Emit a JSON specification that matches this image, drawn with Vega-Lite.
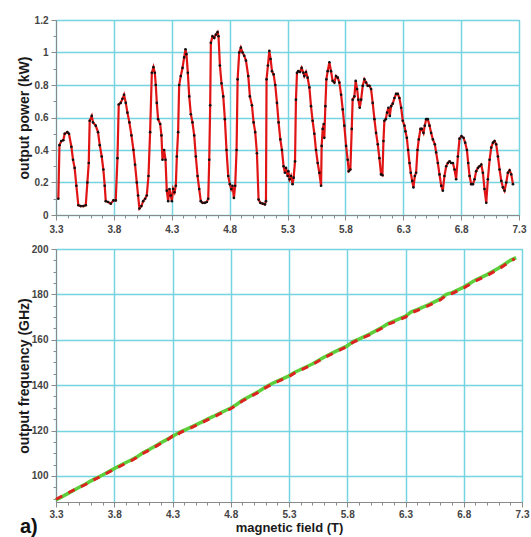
{
  "$schema": "https://vega.github.io/schema/vega-lite/v6.json",
  "padding": {"left": 16, "top": 14, "right": 0, "bottom": 0},
  "background": "white",
  "spacing": 8,
  "config": {
    "font": "Liberation Sans",
    "view": {"stroke": "#8a8a8a", "strokeWidth": 1},
    "axis": {
      "domainColor": "#8a8a8a",
      "tickColor": "#8a8a8a",
      "gridColor": "#74d4e0",
      "gridWidth": 1.5,
      "labelFont": "Liberation Sans",
      "labelFontSize": 10,
      "labelFontWeight": "bold",
      "labelColor": "#444444",
      "labelOverlap": false,
      "labelFlush": false,
      "titleFont": "Liberation Sans",
      "titleFontWeight": "bold",
      "titleColor": "#1a1a1a"
    }
  },
  "datasets": {
    "power": [
      {"b":3.320,"p":0.10},{"b":3.330,"p":0.43},{"b":3.346,"p":0.455},{"b":3.363,"p":0.46},{"b":3.375,"p":0.50},{"b":3.398,"p":0.51},{"b":3.412,"p":0.50},{"b":3.433,"p":0.42},{"b":3.447,"p":0.34},{"b":3.461,"p":0.29},{"b":3.476,"p":0.18},{"b":3.493,"p":0.06},{"b":3.513,"p":0.055},{"b":3.536,"p":0.055},{"b":3.557,"p":0.06},{"b":3.571,"p":0.20},{"b":3.583,"p":0.32},{"b":3.591,"p":0.58},{"b":3.609,"p":0.61},{"b":3.620,"p":0.57},{"b":3.643,"p":0.55},{"b":3.663,"p":0.51},{"b":3.678,"p":0.43},{"b":3.695,"p":0.36},{"b":3.709,"p":0.28},{"b":3.721,"p":0.18},{"b":3.730,"p":0.085},{"b":3.750,"p":0.08},{"b":3.773,"p":0.07},{"b":3.796,"p":0.09},{"b":3.816,"p":0.09},{"b":3.831,"p":0.35},{"b":3.842,"p":0.68},{"b":3.859,"p":0.69},{"b":3.874,"p":0.715},{"b":3.888,"p":0.74},{"b":3.903,"p":0.69},{"b":3.917,"p":0.63},{"b":3.934,"p":0.57},{"b":3.952,"p":0.49},{"b":3.969,"p":0.40},{"b":3.983,"p":0.31},{"b":3.998,"p":0.20},{"b":4.009,"p":0.12},{"b":4.021,"p":0.04},{"b":4.038,"p":0.055},{"b":4.053,"p":0.085},{"b":4.070,"p":0.10},{"b":4.084,"p":0.12},{"b":4.099,"p":0.24},{"b":4.113,"p":0.51},{"b":4.128,"p":0.875},{"b":4.142,"p":0.91},{"b":4.154,"p":0.875},{"b":4.162,"p":0.80},{"b":4.171,"p":0.69},{"b":4.182,"p":0.59},{"b":4.200,"p":0.56},{"b":4.211,"p":0.49},{"b":4.220,"p":0.34},{"b":4.234,"p":0.40},{"b":4.246,"p":0.34},{"b":4.257,"p":0.15},{"b":4.269,"p":0.085},{"b":4.280,"p":0.16},{"b":4.292,"p":0.12},{"b":4.301,"p":0.085},{"b":4.312,"p":0.16},{"b":4.324,"p":0.14},{"b":4.335,"p":0.18},{"b":4.344,"p":0.36},{"b":4.355,"p":0.51},{"b":4.364,"p":0.80},{"b":4.378,"p":0.855},{"b":4.393,"p":0.905},{"b":4.407,"p":0.97},{"b":4.419,"p":1.02},{"b":4.427,"p":0.99},{"b":4.439,"p":0.875},{"b":4.451,"p":0.73},{"b":4.465,"p":0.62},{"b":4.479,"p":0.57},{"b":4.494,"p":0.49},{"b":4.508,"p":0.36},{"b":4.523,"p":0.24},{"b":4.537,"p":0.16},{"b":4.551,"p":0.085},{"b":4.566,"p":0.075},{"b":4.586,"p":0.075},{"b":4.603,"p":0.08},{"b":4.615,"p":0.10},{"b":4.624,"p":0.34},{"b":4.632,"p":0.675},{"b":4.638,"p":1.06},{"b":4.652,"p":1.10},{"b":4.667,"p":1.09},{"b":4.681,"p":1.11},{"b":4.696,"p":1.125},{"b":4.704,"p":1.10},{"b":4.716,"p":0.92},{"b":4.730,"p":0.81},{"b":4.745,"p":0.73},{"b":4.759,"p":0.59},{"b":4.773,"p":0.40},{"b":4.788,"p":0.24},{"b":4.802,"p":0.19},{"b":4.814,"p":0.16},{"b":4.825,"p":0.18},{"b":4.837,"p":0.105},{"b":4.848,"p":0.18},{"b":4.860,"p":0.40},{"b":4.869,"p":0.835},{"b":4.883,"p":1.00},{"b":4.897,"p":1.03},{"b":4.912,"p":1.00},{"b":4.926,"p":0.98},{"b":4.941,"p":0.95},{"b":4.961,"p":0.855},{"b":4.975,"p":0.73},{"b":4.993,"p":0.675},{"b":5.007,"p":0.57},{"b":5.021,"p":0.51},{"b":5.036,"p":0.38},{"b":5.050,"p":0.095},{"b":5.065,"p":0.075},{"b":5.085,"p":0.07},{"b":5.105,"p":0.065},{"b":5.114,"p":0.085},{"b":5.119,"p":0.835},{"b":5.131,"p":0.92},{"b":5.143,"p":1.01},{"b":5.154,"p":0.96},{"b":5.166,"p":0.885},{"b":5.180,"p":0.865},{"b":5.194,"p":0.80},{"b":5.209,"p":0.69},{"b":5.223,"p":0.57},{"b":5.238,"p":0.465},{"b":5.252,"p":0.40},{"b":5.266,"p":0.30},{"b":5.278,"p":0.26},{"b":5.287,"p":0.29},{"b":5.301,"p":0.24},{"b":5.307,"p":0.27},{"b":5.318,"p":0.22},{"b":5.330,"p":0.24},{"b":5.344,"p":0.19},{"b":5.353,"p":0.23},{"b":5.365,"p":0.33},{"b":5.373,"p":0.71},{"b":5.382,"p":0.875},{"b":5.393,"p":0.885},{"b":5.408,"p":0.88},{"b":5.422,"p":0.905},{"b":5.437,"p":0.875},{"b":5.445,"p":0.855},{"b":5.460,"p":0.88},{"b":5.474,"p":0.845},{"b":5.489,"p":0.785},{"b":5.503,"p":0.67},{"b":5.517,"p":0.58},{"b":5.532,"p":0.50},{"b":5.546,"p":0.40},{"b":5.561,"p":0.32},{"b":5.575,"p":0.26},{"b":5.590,"p":0.18},{"b":5.595,"p":0.425},{"b":5.604,"p":0.53},{"b":5.613,"p":0.56},{"b":5.618,"p":0.475},{"b":5.627,"p":0.67},{"b":5.636,"p":0.835},{"b":5.647,"p":0.885},{"b":5.662,"p":0.94},{"b":5.676,"p":0.885},{"b":5.690,"p":0.825},{"b":5.705,"p":0.815},{"b":5.719,"p":0.855},{"b":5.734,"p":0.845},{"b":5.748,"p":0.815},{"b":5.763,"p":0.74},{"b":5.777,"p":0.65},{"b":5.791,"p":0.55},{"b":5.806,"p":0.425},{"b":5.820,"p":0.34},{"b":5.829,"p":0.27},{"b":5.843,"p":0.28},{"b":5.855,"p":0.53},{"b":5.863,"p":0.71},{"b":5.878,"p":0.73},{"b":5.889,"p":0.825},{"b":5.901,"p":0.775},{"b":5.912,"p":0.71},{"b":5.924,"p":0.66},{"b":5.936,"p":0.71},{"b":5.950,"p":0.795},{"b":5.964,"p":0.835},{"b":5.979,"p":0.815},{"b":5.993,"p":0.795},{"b":6.008,"p":0.795},{"b":6.022,"p":0.775},{"b":6.036,"p":0.69},{"b":6.051,"p":0.59},{"b":6.065,"p":0.505},{"b":6.080,"p":0.435},{"b":6.094,"p":0.35},{"b":6.108,"p":0.25},{"b":6.120,"p":0.245},{"b":6.129,"p":0.455},{"b":6.137,"p":0.58},{"b":6.149,"p":0.59},{"b":6.160,"p":0.63},{"b":6.172,"p":0.66},{"b":6.184,"p":0.61},{"b":6.195,"p":0.67},{"b":6.209,"p":0.685},{"b":6.224,"p":0.72},{"b":6.238,"p":0.745},{"b":6.253,"p":0.745},{"b":6.267,"p":0.72},{"b":6.282,"p":0.66},{"b":6.296,"p":0.58},{"b":6.310,"p":0.55},{"b":6.319,"p":0.515},{"b":6.331,"p":0.475},{"b":6.342,"p":0.40},{"b":6.354,"p":0.32},{"b":6.365,"p":0.26},{"b":6.377,"p":0.21},{"b":6.388,"p":0.17},{"b":6.400,"p":0.24},{"b":6.411,"p":0.26},{"b":6.423,"p":0.40},{"b":6.434,"p":0.465},{"b":6.449,"p":0.53},{"b":6.460,"p":0.53},{"b":6.475,"p":0.505},{"b":6.486,"p":0.55},{"b":6.498,"p":0.59},{"b":6.512,"p":0.59},{"b":6.527,"p":0.55},{"b":6.541,"p":0.505},{"b":6.556,"p":0.465},{"b":6.573,"p":0.435},{"b":6.584,"p":0.385},{"b":6.599,"p":0.32},{"b":6.613,"p":0.25},{"b":6.628,"p":0.18},{"b":6.642,"p":0.15},{"b":6.656,"p":0.24},{"b":6.671,"p":0.30},{"b":6.685,"p":0.32},{"b":6.700,"p":0.33},{"b":6.714,"p":0.32},{"b":6.729,"p":0.32},{"b":6.743,"p":0.28},{"b":6.757,"p":0.22},{"b":6.772,"p":0.36},{"b":6.786,"p":0.47},{"b":6.803,"p":0.485},{"b":6.821,"p":0.475},{"b":6.835,"p":0.445},{"b":6.850,"p":0.40},{"b":6.861,"p":0.32},{"b":6.873,"p":0.24},{"b":6.887,"p":0.19},{"b":6.902,"p":0.19},{"b":6.916,"p":0.22},{"b":6.930,"p":0.27},{"b":6.945,"p":0.29},{"b":6.959,"p":0.30},{"b":6.974,"p":0.31},{"b":6.988,"p":0.26},{"b":7.002,"p":0.16},{"b":7.017,"p":0.075},{"b":7.031,"p":0.22},{"b":7.046,"p":0.34},{"b":7.060,"p":0.415},{"b":7.075,"p":0.445},{"b":7.089,"p":0.455},{"b":7.103,"p":0.435},{"b":7.118,"p":0.36},{"b":7.132,"p":0.28},{"b":7.147,"p":0.21},{"b":7.161,"p":0.17},{"b":7.175,"p":0.15},{"b":7.190,"p":0.20},{"b":7.204,"p":0.26},{"b":7.219,"p":0.275},{"b":7.233,"p":0.25},{"b":7.248,"p":0.19}
    ],
    "freqGreen": [
      {"b":3.30,"f":89.4},{"b":3.40,"f":92.2},{"b":3.50,"f":95.0},{"b":3.55,"f":96.3},{"b":3.60,"f":97.8},{"b":3.70,"f":100.4},{"b":3.80,"f":103.2},{"b":3.90,"f":105.9},{"b":3.95,"f":107.1},{"b":4.00,"f":108.6},{"b":4.05,"f":110.3},{"b":4.10,"f":111.6},{"b":4.15,"f":113.1},{"b":4.20,"f":114.6},{"b":4.25,"f":116.0},{"b":4.30,"f":117.4},{"b":4.36,"f":119.2},{"b":4.45,"f":121.3},{"b":4.55,"f":123.7},{"b":4.60,"f":125.0},{"b":4.65,"f":126.2},{"b":4.70,"f":127.5},{"b":4.80,"f":129.9},{"b":4.85,"f":131.5},{"b":4.90,"f":133.3},{"b":5.00,"f":136.1},{"b":5.05,"f":137.5},{"b":5.10,"f":139.2},{"b":5.15,"f":140.6},{"b":5.20,"f":141.8},{"b":5.30,"f":144.1},{"b":5.35,"f":145.7},{"b":5.40,"f":146.9},{"b":5.50,"f":149.3},{"b":5.60,"f":152.3},{"b":5.70,"f":154.9},{"b":5.80,"f":157.3},{"b":5.85,"f":159.2},{"b":5.90,"f":160.3},{"b":6.00,"f":162.7},{"b":6.10,"f":165.5},{"b":6.15,"f":167.1},{"b":6.20,"f":168.2},{"b":6.30,"f":170.4},{"b":6.35,"f":172.3},{"b":6.40,"f":173.3},{"b":6.50,"f":175.5},{"b":6.60,"f":178.0},{"b":6.65,"f":180.0},{"b":6.70,"f":180.8},{"b":6.80,"f":183.2},{"b":6.90,"f":186.3},{"b":7.00,"f":188.7},{"b":7.10,"f":191.6},{"b":7.15,"f":193.3},{"b":7.20,"f":195.0},{"b":7.25,"f":196.2}
    ],
    "freqRed": [
      {"b":3.30,"f":89.7},{"b":3.40,"f":92.4},{"b":3.50,"f":95.0},{"b":3.55,"f":96.1},{"b":3.60,"f":97.6},{"b":3.70,"f":100.2},{"b":3.80,"f":102.9},{"b":3.90,"f":105.6},{"b":3.95,"f":106.8},{"b":4.00,"f":108.3},{"b":4.05,"f":110.0},{"b":4.10,"f":111.3},{"b":4.15,"f":112.8},{"b":4.20,"f":114.3},{"b":4.25,"f":115.6},{"b":4.30,"f":117.6},{"b":4.33,"f":117.0},{"b":4.36,"f":118.9},{"b":4.45,"f":121.0},{"b":4.55,"f":123.4},{"b":4.60,"f":124.7},{"b":4.65,"f":125.8},{"b":4.70,"f":127.2},{"b":4.80,"f":129.6},{"b":4.85,"f":131.2},{"b":4.90,"f":133.0},{"b":5.00,"f":135.8},{"b":5.05,"f":137.2},{"b":5.10,"f":138.9},{"b":5.15,"f":140.3},{"b":5.20,"f":141.5},{"b":5.30,"f":143.8},{"b":5.35,"f":145.4},{"b":5.40,"f":146.6},{"b":5.50,"f":149.0},{"b":5.60,"f":152.0},{"b":5.70,"f":154.6},{"b":5.80,"f":157.0},{"b":5.85,"f":158.9},{"b":5.90,"f":160.0},{"b":6.00,"f":162.4},{"b":6.10,"f":165.2},{"b":6.15,"f":166.8},{"b":6.20,"f":167.8},{"b":6.30,"f":170.0},{"b":6.35,"f":171.9},{"b":6.40,"f":172.9},{"b":6.50,"f":175.1},{"b":6.60,"f":177.6},{"b":6.65,"f":179.6},{"b":6.70,"f":180.4},{"b":6.80,"f":182.8},{"b":6.90,"f":185.9},{"b":7.00,"f":188.3},{"b":7.10,"f":191.2},{"b":7.15,"f":192.8},{"b":7.20,"f":194.6},{"b":7.237,"f":195.7}
    ]
  },
  "vconcat": [
    {
      "width": 463,
      "height": 195,
      "data": {"name": "power"},
      "encoding": {
        "x": {
          "field": "b", "type": "quantitative",
          "scale": {"domain": [3.3, 7.3], "nice": false, "zero": false},
          "axis": {
            "title": null,
            "values": [3.3,3.4,3.5,3.6,3.7,3.8,3.9,4.0,4.1,4.2,4.3,4.4,4.5,4.6,4.7,4.8,4.9,5.0,5.1,5.2,5.3,5.4,5.5,5.6,5.7,5.8,5.9,6.0,6.1,6.2,6.3,6.4,6.5,6.6,6.7,6.8,6.9,7.0,7.1,7.2,7.3],
            "labelExpr": "(round(datum.value*10) - 3) % 5 == 0 ? format(datum.value, '.1f') : ''",
            "tickSize": {"condition": {"test": "(round(datum.value*10) - 3) % 5 == 0", "value": 5}, "value": 3},
            "gridOpacity": {"condition": {"test": "(round(datum.value*10) - 3) % 5 == 0", "value": 1}, "value": 0},
            "labelPadding": 4
          }
        },
        "y": {
          "field": "p", "type": "quantitative",
          "scale": {"domain": [0, 1.2], "nice": false},
          "axis": {
            "title": "output power (kW)",
            "titleFontSize": 14,
            "titleX": -25,
            "values": [0,0.1,0.2,0.3,0.4,0.5,0.6,0.7,0.8,0.9,1.0,1.1,1.2],
            "labelExpr": "round(datum.value*10) % 2 == 0 ? format(datum.value, '~g') : ''",
            "tickSize": {"condition": {"test": "round(datum.value*10) % 2 == 0", "value": 5}, "value": 3},
            "gridOpacity": {"condition": {"test": "round(datum.value*10) % 2 == 0", "value": 1}, "value": 0},
            "labelPadding": 3
          }
        }
      },
      "layer": [
        {"mark": {"type": "line", "color": "#e01414", "strokeWidth": 2.2}},
        {"mark": {"type": "point", "filled": true, "color": "#111111", "size": 7, "opacity": 1}}
      ]
    },
    {
      "width": 466,
      "height": 253,
      "title": {"text": "a)", "orient": "bottom", "anchor": "start", "fontSize": 20, "fontWeight": "bold", "color": "#111111", "dx": -36, "offset": -17, "frame": "group"},
      "encoding": {
        "x": {
          "field": "b", "type": "quantitative",
          "scale": {"domain": [3.3, 7.3], "nice": false, "zero": false},
          "axis": {
            "title": "magnetic field (T)",
            "titleFontSize": 13,
            "titlePadding": 2,
            "values": [3.3,3.4,3.5,3.6,3.7,3.8,3.9,4.0,4.1,4.2,4.3,4.4,4.5,4.6,4.7,4.8,4.9,5.0,5.1,5.2,5.3,5.4,5.5,5.6,5.7,5.8,5.9,6.0,6.1,6.2,6.3,6.4,6.5,6.6,6.7,6.8,6.9,7.0,7.1,7.2,7.3],
            "labelExpr": "(round(datum.value*10) - 3) % 5 == 0 ? format(datum.value, '.1f') : ''",
            "tickSize": {"condition": {"test": "(round(datum.value*10) - 3) % 5 == 0", "value": 5}, "value": 3},
            "gridOpacity": {"condition": {"test": "(round(datum.value*10) - 3) % 5 == 0", "value": 1}, "value": 0},
            "labelPadding": 2
          }
        },
        "y": {
          "field": "f", "type": "quantitative",
          "scale": {"domain": [88.5, 200], "nice": false, "zero": false},
          "axis": {
            "title": "output frequency (GHz)",
            "titleFontSize": 14,
            "titleX": -25,
            "values": [90,95,100,105,110,115,120,125,130,135,140,145,150,155,160,165,170,175,180,185,190,195,200],
            "labelExpr": "datum.value % 20 == 0 ? format(datum.value, 'd') : ''",
            "tickSize": {"condition": {"test": "datum.value % 20 == 0", "value": 5}, "value": 3},
            "gridOpacity": {"condition": {"test": "datum.value % 20 == 0", "value": 1}, "value": 0},
            "labelPadding": 3
          }
        }
      },
      "layer": [
        {"data": {"name": "freqGreen"}, "mark": {"type": "line", "color": "#5ccf3a", "strokeWidth": 3.5}},
        {"data": {"name": "freqRed"}, "mark": {"type": "line", "color": "#dd2222", "strokeWidth": 3, "strokeDash": [7, 7]}}
      ]
    }
  ]
}
